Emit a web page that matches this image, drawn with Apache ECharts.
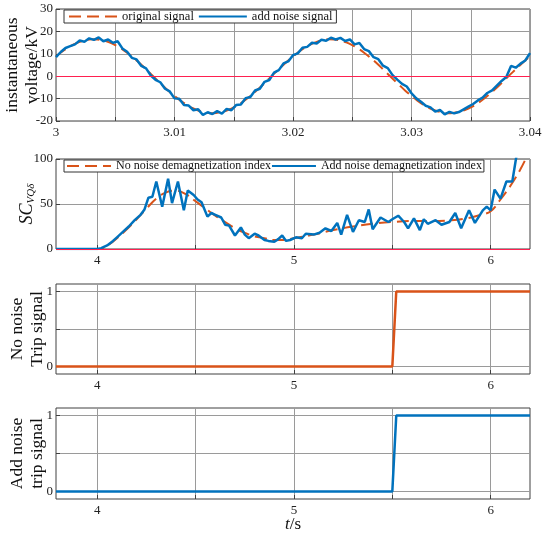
<!DOCTYPE html>
<html lang="en">
<head>
    <meta charset="UTF-8">
    <title>Demagnetization index and trip signal</title>
    <script src="https://cdn.jsdelivr.net/npm/echarts@6/dist/echarts.min.js"></script>
    <style>
        html, body { margin: 0; padding: 0; background: #fff; }
        #main { width: 550px; height: 535px; }
    </style>
</head>
<body>
<div id="main"></div>
<script>
    // ---- panel 1: voltage (kV), sampled from t = 3 s ----
    var origStart = 3, origStep = 0.0005;
    var origVoltage = [8.8, 10.9, 12.7, 14.2, 15.3, 16.1, 16.5, 16.4, 16.0, 15.1,
        13.9, 12.4, 10.5, 8.4, 6.1, 3.6, 1.0, -1.6, -4.1, -6.6,
        -8.8, -10.9, -12.7, -14.2, -15.3, -16.1, -16.5, -16.4, -16.0, -15.1,
        -13.9, -12.4, -10.5, -8.4, -6.1, -3.6, -1.0, 1.6, 4.1, 6.6,
        8.8, 10.9, 12.7, 14.2, 15.3, 16.1, 16.5, 16.4, 16.0, 15.1,
        13.9, 12.4, 10.5, 8.4, 6.1, 3.6, 1.0, -1.6, -4.1, -6.6,
        -8.8, -10.9, -12.7, -14.2, -15.3, -16.1, -16.5, -16.4, -16.0, -15.1,
        -13.9, -12.4, -10.5, -8.4, -6.1, -3.6, -1.0, 1.6, 4.1, 6.6, 8.8];

    var noiseStart = 3, noiseStep = 0.0004;
    var noiseVoltage = [8.5, 10.8, 12.6, 13.4, 14.2, 15.9, 15.4, 16.9, 16.2, 17.3,
        15.6, 16.4, 14.9, 15.6, 12.4, 10.9, 8.2, 7.5, 4.6, 3.5,
        0.3, -1.6, -2.7, -5.6, -6.8, -9.9, -10.1, -12.9, -13.1, -15.2,
        -14.8, -17.3, -16.1, -16.9, -15.6, -16.7, -14.6, -15.2, -12.9, -12.6,
        -9.8, -9.3, -6.4, -5.6, -2.5, -1.7, 1.6, 2.7, 5.7, 6.6,
        9.4, 10.2, 12.7, 13.1, 14.9, 14.6, 16.3, 15.8, 17.2, 16.4,
        17.1, 15.7, 16.4, 14.2, 14.8, 12.1, 11.2, 8.5, 7.6, 4.7,
        3.6, 0.5, -1.5, -3.4, -4.6, -7.6, -9.9, -11.4, -13.2, -13.9,
        -15.8, -15.1, -17.0, -15.9, -16.6, -16.0, -14.8, -13.6, -12.4, -10.8,
        -9.6, -7.5, -6.3, -4.2, -2.1, -0.4, 4.6, 3.8, 5.6, 7.0, 10.3];

    var v1Ticks = [3, 3.005, 3.01, 3.015, 3.02, 3.025, 3.03, 3.035, 3.04];
    var v1Labels = [3, 3.01, 3.02, 3.03, 3.04];

    // ---- panel 2: demagnetization index SC ----
    var scCleanT = [3.79, 4.00, 4.03, 4.06, 4.10, 4.15, 4.20, 4.25, 4.30, 4.35,
        4.40, 4.45, 4.50, 4.55, 4.60, 4.65, 4.70, 4.75, 4.80, 4.85,
        4.90, 4.95, 5.00, 5.10, 5.20, 5.30, 5.40, 5.50, 5.60, 5.70,
        5.80, 5.90, 5.95, 6.00, 6.05, 6.10, 6.15, 6.20];
    var scClean = [0, 0, 1, 5, 12, 22, 33, 45, 56, 63,
        65, 61, 53, 45, 37, 30, 23, 18, 14, 12,
        10, 10, 12, 16, 21, 25, 28, 30, 31, 31,
        32, 35, 38, 42, 55, 70, 88, 110];

    var scNoiseT = [3.79, 4.00, 4.02, 4.05, 4.08, 4.10, 4.13, 4.16, 4.19, 4.22,
        4.24, 4.26, 4.28, 4.30, 4.33, 4.36, 4.38, 4.41, 4.44, 4.46,
        4.49, 4.51, 4.53, 4.56, 4.58, 4.60, 4.63, 4.65, 4.67, 4.70,
        4.73, 4.75, 4.77, 4.80, 4.82, 4.85, 4.87, 4.90, 4.92, 4.94,
        4.96, 4.98, 5.01, 5.04, 5.06, 5.10, 5.13, 5.16, 5.19, 5.22,
        5.24, 5.27, 5.30, 5.33, 5.36, 5.38, 5.40, 5.44, 5.48, 5.50,
        5.53, 5.56, 5.58, 5.61, 5.64, 5.66, 5.68, 5.72, 5.75, 5.79,
        5.82, 5.85, 5.89, 5.92, 5.96, 5.98, 6.00, 6.02, 6.05, 6.08,
        6.11, 6.13, 6.16];
    var scNoise = [0, 0, 1, 4, 9, 13, 19, 25, 32, 38,
        44, 57, 58, 75, 47, 78, 51, 75, 43, 65,
        60, 55, 52, 36, 40, 38, 35, 27, 26, 15,
        24, 16, 12, 17, 15, 10, 9, 8, 11, 15,
        9, 10, 13, 12, 17, 16, 18, 23, 20, 29,
        16, 38, 19, 32, 30, 44, 22, 35, 30, 33,
        37, 30, 23, 34, 21, 33, 28, 32, 27, 30,
        40, 23, 43, 29, 43, 47, 43, 66, 56, 75,
        75, 102, 130];

    var sTicks = [4, 4.5, 5, 5.5, 6];
    var sLabels = [4, 5, 6];

    // ---- panels 3 and 4: trip signals ----
    var tripT = [3.79, 5.50, 5.52, 6.20];
    var tripClean = [0, 0, 1, 1];
    var tripNoise = [0, 0, 1, 1];

    var serif = 'Liberation Serif, Times New Roman, serif';
    var orange = '#d95319', blue = '#0072bd', pink = '#ff2050';

    function pairs(xs, ys) {
        var out = [];
        for (var i = 0; i < ys.length; i++) out.push([xs[i], ys[i]]);
        return out;
    }
    function sampled(start, step, ys) {
        var out = [];
        for (var i = 0; i < ys.length; i++) out.push([+(start + i * step).toFixed(5), ys[i]]);
        return out;
    }

    function xAxisCfg(idx, min, max, ticks, labels) {
        return {
            type: 'value', gridIndex: idx, min: min, max: max,
            axisLine: { show: false, onZero: false },
            axisTick: { show: true, inside: true, length: 4, customValues: ticks, lineStyle: { color: '#404040' } },
            axisLabel: { customValues: labels, fontFamily: serif, fontSize: 13, color: '#222', margin: 5 },
            splitLine: { show: true, lineStyle: { color: '#9a9a9a', width: 1 } },
            nameMoveOverlap: false
        };
    }
    function yAxisCfg(idx, min, max, ticks, labels, name, gap) {
        return {
            type: 'value', gridIndex: idx, min: min, max: max,
            axisLine: { show: false, onZero: false },
            axisTick: { show: true, inside: true, length: 4, customValues: ticks, lineStyle: { color: '#404040' } },
            axisLabel: { customValues: labels, fontFamily: serif, fontSize: 13, color: '#222', margin: 3 },
            splitLine: { show: true, lineStyle: { color: '#9a9a9a', width: 1 } },
            name: name, nameLocation: 'middle', nameRotate: 90, nameGap: gap,
            nameMoveOverlap: false,
            nameTextStyle: {
                fontFamily: serif, fontSize: 17.5, color: '#111', lineHeight: 20,
                rich: {
                    sc: { fontFamily: serif, fontSize: 18, fontStyle: 'italic', color: '#111' },
                    sub: { fontFamily: serif, fontSize: 11, fontStyle: 'italic', color: '#111', verticalAlign: 'bottom', padding: [6, 0, 0, 0] }
                }
            }
        };
    }

    var zeroLine = {
        silent: true, symbol: 'none', label: { show: false },
        lineStyle: { color: pink, width: 1, type: 'solid' },
        data: [{ yAxis: 0 }]
    };

    var myChart = echarts.init(document.getElementById('main'), null, { renderer: 'canvas' });
    var gridBase = { show: true, borderColor: '#404040', borderWidth: 1, containLabel: false, outerBoundsMode: 'none' };

    var option = {
        animation: false,
        backgroundColor: '#fff',
        grid: [
            Object.assign({ left: 56, top: 9, width: 474, height: 112 }, gridBase),
            Object.assign({ left: 56, top: 159, width: 474, height: 90 }, gridBase),
            Object.assign({ left: 56, top: 284, width: 474, height: 90 }, gridBase),
            Object.assign({ left: 56, top: 408, width: 474, height: 91 }, gridBase)
        ],
        legend: [
            {
                data: ['original signal', 'add noise signal'],
                left: 64, top: 10, orient: 'horizontal',
                itemWidth: 48, itemHeight: 12, itemGap: 4,
                padding: [0, 4, 0, 4],
                itemStyle: { opacity: 0 },
                backgroundColor: '#fff', borderColor: '#333', borderWidth: 1, borderRadius: 0,
                textStyle: { fontFamily: serif, fontSize: 12.5, color: '#111' }
            },
            {
                data: ['No noise demagnetization index', 'Add noise demagnetization index'],
                left: 64, top: 160, orient: 'horizontal',
                itemWidth: 44, itemHeight: 12, itemGap: 0,
                padding: [0, 2, 0, 2],
                itemStyle: { opacity: 0 },
                backgroundColor: '#fff', borderColor: '#333', borderWidth: 1, borderRadius: 0,
                textStyle: { fontFamily: serif, fontSize: 12, color: '#111' }
            }
        ],
        xAxis: [
            xAxisCfg(0, 3, 3.04, v1Ticks, v1Labels),
            xAxisCfg(1, 3.79, 6.2, sTicks, sLabels),
            xAxisCfg(2, 3.79, 6.2, sTicks, sLabels),
            Object.assign(xAxisCfg(3, 3.79, 6.2, sTicks, sLabels), {
                name: '{i|t}/s', nameLocation: 'middle', nameGap: 17,
                nameTextStyle: {
                    fontFamily: serif, fontSize: 17, color: '#111',
                    rich: { i: { fontFamily: serif, fontSize: 17, fontStyle: 'italic', color: '#111' } }
                }
            })
        ],
        yAxis: [
            yAxisCfg(0, -20, 30, [-20, -10, 0, 10, 20, 30], [-20, -10, 0, 10, 20, 30], 'instantaneous\nvoltage/kV', 14),
            yAxisCfg(1, 0, 100, [0, 50, 100], [0, 50, 100], '{sc|SC}{sub|VQδ}', 19),
            yAxisCfg(2, -0.1, 1.1, [0, 0.5, 1], [0, 1], 'No noise\nTrip signal', 9),
            yAxisCfg(3, -0.1, 1.1, [0, 0.5, 1], [0, 1], 'Add noise\ntrip signal', 9)
        ],
        series: [
            {
                name: 'original signal', type: 'line', xAxisIndex: 0, yAxisIndex: 0,
                data: sampled(origStart, origStep, origVoltage), symbol: 'none', smooth: 0.3,
                lineStyle: { color: orange, width: 2, type: [12, 6] }, itemStyle: { color: orange },
                markLine: zeroLine, z: 2
            },
            {
                name: 'add noise signal', type: 'line', xAxisIndex: 0, yAxisIndex: 0,
                data: sampled(noiseStart, noiseStep, noiseVoltage), symbol: 'none',
                lineStyle: { color: blue, width: 2.5 }, itemStyle: { color: blue }, z: 3
            },
            {
                name: 'No noise demagnetization index', type: 'line', xAxisIndex: 1, yAxisIndex: 1,
                data: pairs(scCleanT, scClean), symbol: 'none', smooth: 0.4,
                lineStyle: { color: orange, width: 2, type: [12, 6] }, itemStyle: { color: orange },
                markLine: zeroLine, z: 2
            },
            {
                name: 'Add noise demagnetization index', type: 'line', xAxisIndex: 1, yAxisIndex: 1,
                data: pairs(scNoiseT, scNoise), symbol: 'none',
                lineStyle: { color: blue, width: 2.5 }, itemStyle: { color: blue }, z: 3
            },
            {
                name: 'No noise trip', type: 'line', xAxisIndex: 2, yAxisIndex: 2,
                data: pairs(tripT, tripClean), symbol: 'none',
                lineStyle: { color: orange, width: 2.5 }, itemStyle: { color: orange }
            },
            {
                name: 'Add noise trip', type: 'line', xAxisIndex: 3, yAxisIndex: 3,
                data: pairs(tripT, tripNoise), symbol: 'none',
                lineStyle: { color: blue, width: 2.5 }, itemStyle: { color: blue }
            }
        ]
    };

    myChart.setOption(option);
    window.onresize = myChart.resize;
</script>
</body>
</html>
